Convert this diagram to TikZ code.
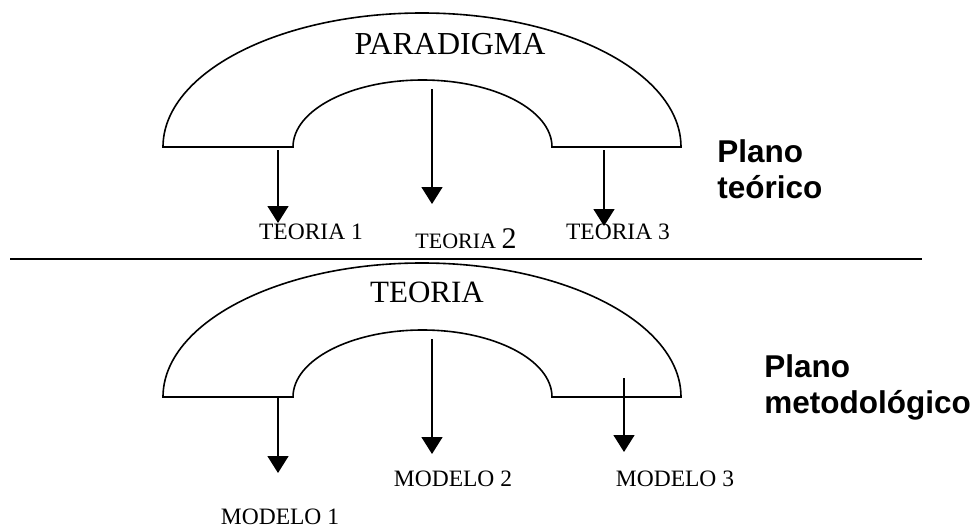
\documentclass[tikz,border=0pt]{standalone}
\usepackage{fontspec}
\setmainfont{Liberation Serif}
\setsansfont{Liberation Sans}
\usetikzlibrary{arrows.meta}

\begin{document}
\begin{tikzpicture}[x=0.5pt, y=0.5pt,
    flecha/.style={-{Triangle[width=10.5pt,length=8.5pt]}, line width=0.8pt},
    arco/.style={line width=0.8pt},
    chico/.style={inner sep=0pt, font=\fontsize{11.75}{14}\selectfont},
    grande/.style={inner sep=0pt, font=\fontsize{16}{19}\selectfont},
    plano/.style={inner sep=0pt, align=left, anchor=west,
        font=\sffamily\bfseries\fontsize{15.75}{18}\selectfont}]
    \useasboundingbox (0,0) rectangle (976,527);

    % paradigma
    \draw[arco] (163,380) arc[start angle=180, end angle=0, x radius=259, y radius=134]
        -- (552,380) arc[start angle=0, end angle=180, x radius=129.5, y radius=67] -- cycle;
    \node[grande] (par) at (450,483) {PARADIGMA};

    % teorias
    \node[chico] (t1) at (311,295) {TEORIA 1};
    \node[chico] (t2) at (466,288) {\fontsize{11}{13}\selectfont TEORIA \fontsize{15}{18}\selectfont 2};
    \node[chico] (t3) at (618,295) {TEORIA 3};
    \coordinate (p1) at (278,377);  \coordinate (p1f) at (278,304);
    \coordinate (p2) at (432,438);  \coordinate (p2f) at (432,323);
    \coordinate (p3) at (604,377);  \coordinate (p3f) at (604,301);
    \draw[flecha] (p1) -- (p1f);
    \draw[flecha] (p2) -- (p2f);
    \draw[flecha] (p3) -- (p3f);

    \node[plano] (pt) at (717,358) {Plano\\te\'orico};

    % separacion
    \coordinate (izq) at (10,268);
    \coordinate (der) at (922,268);
    \draw[line width=0.8pt] (izq) -- (der);

    % teoria
    \draw[arco] (163,130) arc[start angle=180, end angle=0, x radius=259, y radius=134]
        -- (552,130) arc[start angle=0, end angle=180, x radius=129.5, y radius=67] -- cycle;
    \node[grande, font=\fontsize{15.5}{18}\selectfont] (teo) at (427,235) {TEORIA};

    % modelos
    \node[chico] (m1) at (280,10) {MODELO 1};
    \node[chico] (m2) at (453,48) {MODELO 2};
    \node[chico] (m3) at (675,48) {MODELO 3};
    \coordinate (q1) at (278,129);  \coordinate (q1f) at (278,54);
    \coordinate (q2) at (432,188);  \coordinate (q2f) at (432,73);
    \coordinate (q3) at (624,149);  \coordinate (q3f) at (624,75);
    \draw[flecha] (q1) -- (q1f);
    \draw[flecha] (q2) -- (q2f);
    \draw[flecha] (q3) -- (q3f);

    \node[plano] (pm) at (764,140) {Plano\\metodol\'ogico};
\end{tikzpicture}
\end{document}
